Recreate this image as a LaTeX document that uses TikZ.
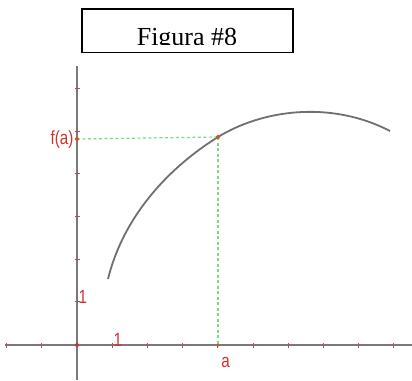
\documentclass[tikz,border=0pt]{standalone}
\usepackage{fontspec}
\setmainfont{Liberation Serif}
\newfontfamily\labfont{Liberation Sans}
\definecolor{axisgray}{HTML}{7A7A7A}
\definecolor{curvegray}{HTML}{707070}
\definecolor{labred}{HTML}{CC3333}
\definecolor{dashgreen}{HTML}{80D880}
\definecolor{ptorange}{HTML}{CC5522}
\definecolor{tickred}{HTML}{B05050}
\tikzset{
  axisline/.style={draw=axisgray, line width=1.3pt},
  ticklab/.style={text=labred, font=\labfont\fontsize{19}{19}\selectfont, inner sep=0pt, xscale=0.8},
  tickmk/.style={draw=tickred, line width=1pt},
  guide/.style={draw=dashgreen, line width=1.2pt, dash pattern=on 3pt off 2.5pt},
  curveline/.style={draw=curvegray, line width=1.8pt},
  dotmark/.style={circle, fill=ptorange, inner sep=0pt, minimum size=4pt},
  titlebox/.style={draw=black, line width=1.4pt, fill=none}
}
\begin{document}
\begin{tikzpicture}[x=1pt,y=-1pt]
\useasboundingbox (0,0) rectangle (412,380);
\fill[white] (0,0) rectangle (412,380);
% title
\draw[titlebox] (82,9) rectangle (293,52.5);
\begin{scope}
\clip (83,10) rectangle (292,44.5);
\node[anchor=base, inner sep=0pt, font=\fontsize{26}{26}\selectfont] (title) at (187,45) {Figura \#8};
\end{scope}
% axes
\coordinate (xl) at (5,345);
\coordinate (xr) at (412,345);
\coordinate (yt) at (77,66);
\coordinate (yb) at (77,380);
\draw[axisline] (xl) -- (xr);
\draw[axisline] (yt) -- (yb);
% ticks
\foreach \k in {-2,-1,1,2,3,4,5,6,7,8,9} {
  \draw[tickmk] ({77+35.2*\k},342.5) -- ({77+35.2*\k},347.5);
}
\foreach \k in {1,...,6} {
  \draw[tickmk] (74.5,{344.5-42.7*\k}) -- (79.5,{344.5-42.7*\k});
}
\node[dotmark, fill=labred] (o) at (77,345) {};
% curve
\coordinate (C0) at (108,279);
\coordinate (P) at (218,137);
\coordinate (C2) at (390,131);
\draw[curveline] (C0) .. controls (122,222) and (162,172) .. (P)
                     .. controls (262,110) and (330,100) .. (C2);
% point and guides
\coordinate (Pa) at (218,345);
\coordinate (Pf) at (77,139);
\draw[guide] (Pf) -- (P);
\draw[guide] (P) -- (Pa);
\node[dotmark] (pt) at (P) {};
\node[dotmark] (fa) at (Pf) {};
\node[dotmark, minimum size=3.5pt] (aa) at (Pa) {};
% labels
\node[ticklab, anchor=east] (lfa) at (73.5,140) {f(a)};
\node[ticklab, anchor=south west] (ly1) at (78.5,304) {1};
\node[ticklab, anchor=south west] (lx1) at (113.5,346.5) {1};
\node[ticklab, anchor=base] (la) at (225.5,367.5) {a};
\end{tikzpicture}
\end{document}
